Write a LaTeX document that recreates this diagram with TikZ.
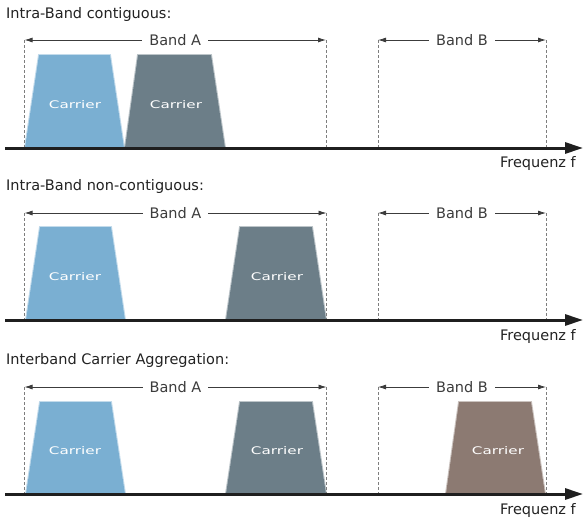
\documentclass[tikz,border=0pt]{standalone}
\usepackage{fontspec}
\setmainfont{DejaVu Sans}
\newfontfamily\carrierfont[FakeStretch=1.45]{DejaVu Sans}
\usetikzlibrary{arrows.meta}
\definecolor{cblue}{RGB}{122,175,210}
\definecolor{cslate}{RGB}{108,126,136}
\definecolor{cbrown}{RGB}{140,122,114}
\definecolor{txt}{RGB}{34,34,34}
\definecolor{dashc}{RGB}{125,125,125}
\definecolor{bandc}{RGB}{60,60,60}
\begin{document}
\begin{tikzpicture}[x=1pt,y=-1pt,
  title/.style={anchor=base west, inner sep=0pt, font=\fontsize{14.5}{16}\selectfont, text=txt},
  freq/.style={anchor=base east, inner sep=0pt, font=\fontsize{14.5}{16}\selectfont, text=txt},
  bandlbl/.style={fill=white, inner xsep=7pt, inner ysep=1pt, font=\fontsize{14.5}{16}\selectfont, text=bandc},
  bandline/.style={draw=bandc, line width=0.8pt, {Latex[length=8pt,width=5pt]}-{Latex[length=8pt,width=5pt]}},
  bandedge/.style={draw=dashc, line width=0.9pt, dash pattern=on 3pt off 2pt},
  axis/.style={draw=black!88, line width=3pt, -{Triangle[length=18pt,width=11pt]}},
  carrier/.style={fill=#1, draw=#1, draw opacity=0.45, line width=2pt},
  clabel/.style={text=white, font=\carrierfont\fontsize{10.5}{12}\selectfont, inner sep=0pt},
]
\useasboundingbox (0,0) rectangle (588,525);

% ---------------- Panel 1 ----------------
\node[title] (t1) at (6,18.5) {Intra-Band contiguous:};
\coordinate (a1l) at (24.5,40); \coordinate (a1r) at (326,40);
\coordinate (b1l) at (378,40);  \coordinate (b1r) at (546,40);
\coordinate (x1s) at (5,148);   \coordinate (x1e) at (583,148);
\path[carrier=cblue]  (25,148) -- (39,55) -- (110,55) -- (124,148) -- cycle;
\path[carrier=cslate] (125,148) -- (138,55) -- (211,55) -- (225,148) -- cycle;
\node[clabel] (c11) at (75,105) {Carrier};
\node[clabel] (c12) at (176,105) {Carrier};
\draw[bandedge] (a1l) -- (a1l |- x1s);
\draw[bandedge] (a1r) -- (a1r |- x1s);
\draw[bandedge] (b1l) -- (b1l |- x1s);
\draw[bandedge] (b1r) -- (b1r |- x1s);
\draw[bandline] (a1l) -- node[bandlbl] (la1) {Band A} (a1r);
\draw[bandline] (b1l) -- node[bandlbl] (lb1) {Band B} (b1r);
\draw[axis] (x1s) -- (x1e);
\node[freq] (f1) at (576,167.5) {Frequenz f};

% ---------------- Panel 2 ----------------
\node[title] (t2) at (6,190.5) {Intra-Band non-contiguous:};
\coordinate (a2l) at (24.5,213); \coordinate (a2r) at (326.5,213);
\coordinate (b2l) at (378,213);  \coordinate (b2r) at (546,213);
\coordinate (x2s) at (5,320);    \coordinate (x2e) at (583,320);
\path[carrier=cblue]  (26,320) -- (40,227) -- (111,227) -- (125,320) -- cycle;
\path[carrier=cslate] (226,320) -- (240,227) -- (312,227) -- (326,320) -- cycle;
\node[clabel] (c21) at (75,277) {Carrier};
\node[clabel] (c22) at (277,277) {Carrier};
\draw[bandedge] (a2l) -- (a2l |- x2s);
\draw[bandedge] (a2r) -- (a2r |- x2s);
\draw[bandedge] (b2l) -- (b2l |- x2s);
\draw[bandedge] (b2r) -- (b2r |- x2s);
\draw[bandline] (a2l) -- node[bandlbl] (la2) {Band A} (a2r);
\draw[bandline] (b2l) -- node[bandlbl] (lb2) {Band B} (b2r);
\draw[axis] (x2s) -- (x2e);
\node[freq] (f2) at (576,340) {Frequenz f};

% ---------------- Panel 3 ----------------
\node[title] (t3) at (6,364) {Interband Carrier Aggregation:};
\coordinate (a3l) at (24.5,387); \coordinate (a3r) at (326.5,387);
\coordinate (b3l) at (378,387);  \coordinate (b3r) at (546,387);
\coordinate (x3s) at (5,494);    \coordinate (x3e) at (583,494);
\path[carrier=cblue]  (26,494) -- (40,402) -- (111,402) -- (125,494) -- cycle;
\path[carrier=cslate] (226,494) -- (240,402) -- (312,402) -- (326,494) -- cycle;
\path[carrier=cbrown] (446,494) -- (459,402) -- (531,402) -- (545,494) -- cycle;
\node[clabel] (c31) at (75,451) {Carrier};
\node[clabel] (c32) at (277,451) {Carrier};
\node[clabel] (c33) at (498,451) {Carrier};
\draw[bandedge] (a3l) -- (a3l |- x3s);
\draw[bandedge] (a3r) -- (a3r |- x3s);
\draw[bandedge] (b3l) -- (b3l |- x3s);
\draw[bandedge] (b3r) -- (b3r |- x3s);
\draw[bandline] (a3l) -- node[bandlbl] (la3) {Band A} (a3r);
\draw[bandline] (b3l) -- node[bandlbl] (lb3) {Band B} (b3r);
\draw[axis] (x3s) -- (x3e);
\node[freq] (f3) at (576,514) {Frequenz f};
\end{tikzpicture}
\end{document}
